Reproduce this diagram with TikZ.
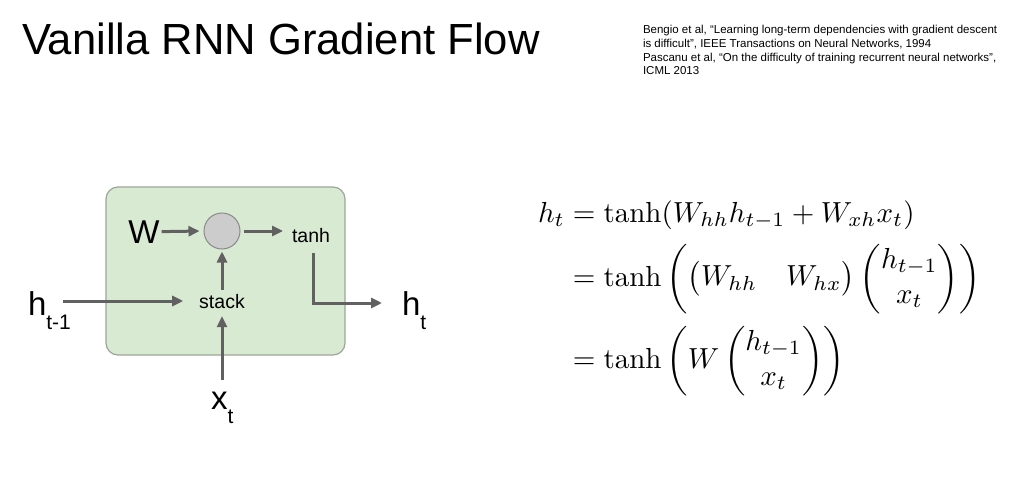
\documentclass[tikz,border=0pt]{standalone}
\usepackage{amsmath}
\usepackage{fontspec}
\newfontfamily\arial{Liberation Sans}
\usetikzlibrary{arrows.meta}
\definecolor{boxgreen}{HTML}{D9EAD3}
\definecolor{boxedge}{HTML}{9CA59A}
\definecolor{flowgray}{HTML}{616161}
\definecolor{dotfill}{HTML}{CCCCCC}
\definecolor{dotedge}{HTML}{8A8A8A}
\newcommand\arlab[2]{{\arial\fontsize{33}{33}\selectfont #1\raisebox{-14pt}{\fontsize{21}{21}\selectfont #2}}}
\begin{document}
\begin{tikzpicture}[x=1pt,y=-1pt,
  flow/.style={draw=flowgray,line width=3pt,-{Triangle[length=11pt,width=10pt]}},
  plain/.style={inner sep=0pt,outer sep=0pt},
  small/.style={plain,font=\arial\fontsize{19.5}{20}\selectfont},
  eq/.style={plain,scale=2.9,anchor=base west}]
\useasboundingbox (0,0) rectangle (1012,503);
\fill[white] (0,0) rectangle (1012,503);
\node[plain,anchor=base west,font=\arial\fontsize{43.6}{50}\selectfont] (title) at (22,55) {Vanilla RNN Gradient Flow};
\node[plain,anchor=north west,align=left,font=\arial\fontsize{11.5}{13.6}\selectfont] (refs) at (643,25.5) {Bengio et al, “Learning long-term dependencies with gradient descent\\ is difficult”, IEEE Transactions on Neural Networks, 1994\\ Pascanu et al, “On the difficulty of training recurrent neural networks”,\\ ICML 2013};
\node[draw=boxedge,fill=boxgreen,line width=1.2pt,rounded corners=12pt,minimum width=239pt,minimum height=168pt,inner sep=0pt] (cell) at (225.5,271) {};
\node[plain,anchor=base,font=\arial\fontsize{33}{33}\selectfont] (W) at (144,243) {W};
\node[circle,draw=dotedge,fill=dotfill,line width=1pt,minimum size=36pt,inner sep=0pt] (dot) at (222,231) {};
\node[small,anchor=base] (tanh) at (311,242) {tanh};
\node[small,anchor=base] (stack) at (222,308) {stack};
\node[plain,anchor=base west] (hprev) at (28,315) {\arlab{h}{t-1}};
\node[plain,anchor=base west] (xt) at (211,409) {\arlab{x}{t}};
\node[plain,anchor=base west] (ht) at (402,315) {\arlab{h}{t}};
\coordinate (hin) at (63,301);
\draw[flow,shorten <=2pt,shorten >=4pt] (W.east) -- (dot.west);
\draw[flow,shorten <=3pt,shorten >=9pt] (dot.east) -- (dot.east -| tanh.west);
\draw[flow,shorten <=4pt,shorten >=2pt] (stack.north) -- (dot.south);
\draw[flow,shorten <=12pt,shorten >=8pt] (stack.south |- xt.north) -- (stack.south);
\draw[flow,shorten >=16pt] (hin) -- (hin -| stack.west);
\draw[flow,shorten <=11pt,shorten >=20pt] ([xshift=2pt]tanh.south) |- ([yshift=12pt]ht.base west);
\node[eq] (eq1) at (538,222) {$h_t = \tanh(W_{hh}h_{t-1} + W_{xh}x_t)$};
\node[eq] (eq2) at (538,286) {$\phantom{h_t} = \tanh\,\biggl( \begin{pmatrix} W_{hh} & W_{hx}\end{pmatrix} \begin{pmatrix} h_{t-1}\\ x_t\end{pmatrix}\biggr)$};
\node[eq] (eq3) at (538,368) {$\phantom{h_t} = \tanh\,\biggl( W \begin{pmatrix} h_{t-1}\\ x_t\end{pmatrix}\biggr)$};
\end{tikzpicture}
\end{document}
